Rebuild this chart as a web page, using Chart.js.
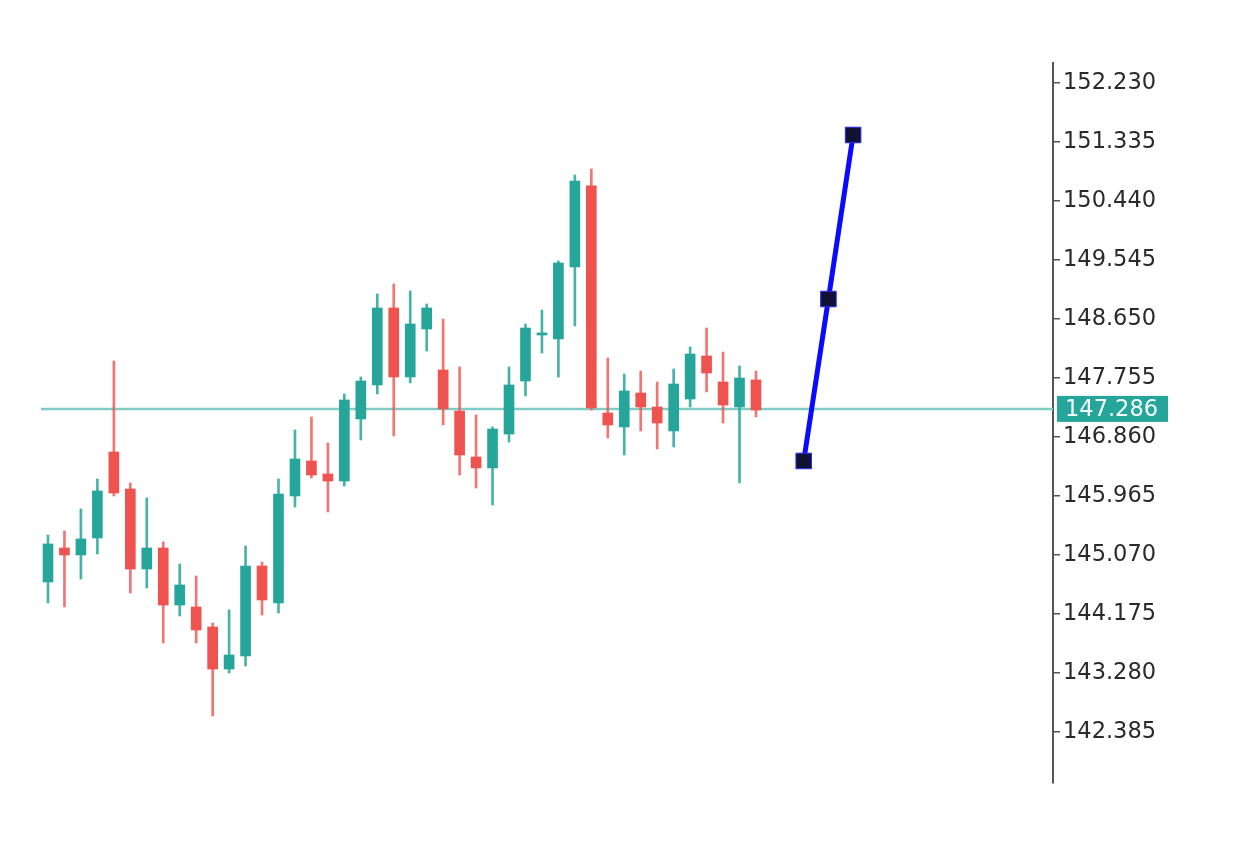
<!DOCTYPE html>
<html>
<head>
<meta charset="utf-8">
<script src="https://cdn.jsdelivr.net/npm/chart.js@4.4.1/dist/chart.umd.min.js"></script>
<style>
  html, body { margin: 0; padding: 0; background: #fff; }
  #wrap { width: 1235px; height: 847px; position: relative; }
</style>
</head>
<body>
<div id="wrap"><canvas id="chart"></canvas></div>
<script>
// candle data
const opens = [144.660, 145.176, 145.070, 145.328, 146.632, 146.071, 144.857, 145.176, 144.311, 144.281,
  143.978, 143.340, 143.538, 144.903, 144.342, 145.965, 146.496, 146.299, 146.192, 147.133,
  147.649, 148.817, 147.770, 148.498, 147.876, 147.254, 146.556, 146.390, 146.905, 147.709,
  148.407, 148.347, 149.439, 150.668, 147.224, 147.012, 147.527, 147.315, 146.951, 147.436,
  148.089, 147.694, 147.315, 147.725];
const highs = [145.373, 145.434, 145.768, 146.223, 148.013, 146.162, 145.935, 145.267, 144.933, 144.751,
  144.038, 144.236, 145.206, 144.964, 146.223, 146.966, 147.163, 146.769, 147.512, 147.770,
  149.029, 149.181, 149.075, 148.877, 148.650, 147.922, 147.194, 147.012, 147.922, 148.574,
  148.786, 149.530, 150.834, 150.925, 148.058, 147.816, 147.861, 147.694, 147.891, 148.225,
  148.513, 148.149, 147.937, 147.861];
const lows = [144.342, 144.281, 144.706, 145.085, 145.965, 144.493, 144.569, 143.735, 144.145, 143.735,
  142.627, 143.280, 143.386, 144.160, 144.190, 145.798, 146.238, 145.722, 146.117, 146.814,
  147.512, 146.875, 147.679, 148.164, 147.042, 146.283, 146.086, 145.828, 146.784, 147.482,
  148.134, 147.770, 148.544, 147.269, 146.845, 146.587, 146.951, 146.678, 146.708, 147.315,
  147.543, 147.072, 146.162, 147.163];
const closes = [145.237, 145.070, 145.313, 146.041, 146.010, 144.857, 145.176, 144.311, 144.615, 143.932,
  143.340, 143.553, 144.903, 144.387, 145.995, 146.526, 146.283, 146.192, 147.421, 147.709,
  148.817, 147.770, 148.574, 148.817, 147.286, 146.587, 146.390, 146.981, 147.649, 148.513,
  148.438, 149.499, 150.743, 147.300, 147.042, 147.558, 147.315, 147.072, 147.664, 148.119,
  147.831, 147.345, 147.755, 147.269];

// blue projection line
const blueX = [45.9, 47.4, 48.9];
const blueY = [146.496, 148.953, 151.441];

const lastPrice = 147.286;
const yTicks = [142.385, 143.280, 144.175, 145.070, 145.965, 146.860, 147.755, 148.650, 149.545, 150.440, 151.335, 152.230];

const UP = "#26a69a";
const DOWN = "#ef5350";

(function () {
  "use strict";

  Chart.defaults.font.family = "'DejaVu Sans', sans-serif";

  const xMin = -0.425;
  const xMax = 61.04;

  const isUp = opens.map((o, i) => closes[i] >= o);
  const bodies = opens.map((o, i) => ({ x: i, y: [o, closes[i]] }));
  const wicks = opens.map((o, i) => ({ x: i, y: [lows[i], highs[i]] }));
  const bodyColors = isUp.map((u) => (u ? UP : DOWN));
  const wickColors = isUp.map((u) => (u ? "rgba(38,166,154,0.85)" : "rgba(239,83,80,0.8)"));

  // price tag on the right axis
  const priceTag = {
    id: "priceTag",
    afterDraw(chart) {
      const ctx = chart.ctx;
      const y = chart.scales.y.getPixelForValue(lastPrice);
      const left = chart.scales.y.left + 4;
      ctx.save();
      ctx.fillStyle = "#26a69a";
      ctx.fillRect(left, y - 13, 111, 26);
      ctx.fillStyle = "#f4fffd";
      ctx.font = "22.5px 'DejaVu Sans'";
      ctx.textBaseline = "middle";
      ctx.textAlign = "left";
      ctx.fillText(lastPrice.toFixed(3), left + 8, y + 1);
      ctx.restore();
    },
  };

  new Chart(document.getElementById("chart"), {
    type: "bar",
    data: {
      datasets: [
        {
          type: "line",
          data: [{ x: xMin, y: lastPrice }, { x: xMax, y: lastPrice }],
          borderColor: "#7fcdc4",
          borderWidth: 2.5,
          pointRadius: 0,
          order: 4,
        },
        {
          data: wicks,
          backgroundColor: wickColors,
          barThickness: 2,
          grouped: false,
          borderSkipped: false,
          order: 3,
        },
        {
          data: bodies,
          backgroundColor: bodyColors,
          barThickness: 10,
          minBarLength: 2,
          grouped: false,
          borderSkipped: false,
          order: 2,
        },
        {
          type: "line",
          data: blueX.map((x, i) => ({ x, y: blueY[i] })),
          borderColor: "#0a0aff",
          borderWidth: 5,
          pointStyle: "rect",
          pointRadius: 11,
          pointBackgroundColor: "#111133",
          pointBorderColor: "#2a2aff",
          pointBorderWidth: 1,
          order: 1,
        },
      ],
    },
    options: {
      responsive: true,
      maintainAspectRatio: false,
      animation: false,
      layout: { padding: { left: 41, top: 63, bottom: 64, right: 0 } },
      plugins: { legend: { display: false }, tooltip: { enabled: false } },
      scales: {
        x: {
          type: "linear",
          min: xMin,
          max: xMax,
          offset: false,
          display: false,
        },
        y: {
          position: "right",
          min: 141.611,
          max: 152.533,
          afterBuildTicks: (scale) => {
            scale.ticks = yTicks.map((v) => ({ value: v }));
          },
          afterFit: (scale) => {
            scale.width = 182;
          },
          border: { display: true, color: "#555", width: 2 },
          grid: {
            drawOnChartArea: false,
            drawTicks: true,
            tickLength: 7,
            color: "#555",
            lineWidth: 1.5,
          },
          ticks: {
            padding: 3,
            color: "#2a2a2a",
            font: { size: 22.5 },
            callback: (v) => Number(v).toFixed(3),
          },
        },
      },
    },
    plugins: [priceTag],
  });
})();
</script>
</body>
</html>
